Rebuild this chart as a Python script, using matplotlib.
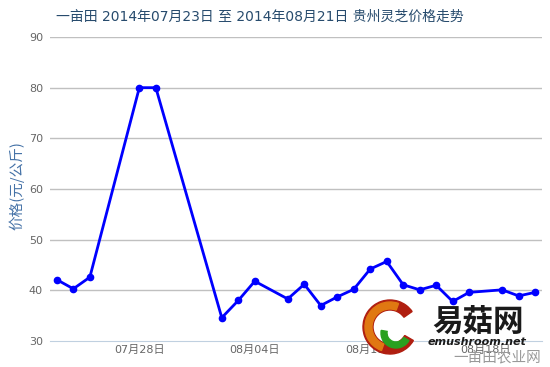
import matplotlib.pyplot as plt
import matplotlib.dates as mdates
from matplotlib.patches import Wedge
import pandas as pd

plt.rcParams['font.family'] = ['DejaVu Sans', 'Noto Sans CJK SC']

dates = ["2014-07-23", "2014-07-24", "2014-07-25", "2014-07-28", "2014-07-29",
         "2014-08-02", "2014-08-03", "2014-08-04", "2014-08-06", "2014-08-07",
         "2014-08-08", "2014-08-09", "2014-08-10", "2014-08-11", "2014-08-12",
         "2014-08-13", "2014-08-14", "2014-08-15", "2014-08-16", "2014-08-17",
         "2014-08-19", "2014-08-20", "2014-08-21"]
prices = [42.1, 40.3, 42.6, 80.0, 80.0,
          34.6, 38.0, 41.8, 38.3, 41.2,
          37.0, 38.7, 40.2, 44.2, 45.7,
          41.1, 40.1, 41.0, 37.8, 39.6,
          40.1, 38.9, 39.6]
tick_dates = ["2014-07-28", "2014-08-04", "2014-08-11", "2014-08-18"]
yticks = [30, 40, 50, 60, 70, 80, 90]

x = pd.to_datetime(dates)

W, H = 550, 367
fig = plt.figure(figsize=(5.5, 3.67), dpi=100)
ax = fig.add_axes([50 / W, 26 / H, 492 / W, 304 / H])

for y in yticks[1:]:
    ax.axhline(y, color="#c0c0c0", lw=1, zorder=1)

ax.plot(x, prices, color="#0000ff", lw=2, marker="o", markersize=4.5, zorder=3)

ax.set_ylim(30, 90)
ax.set_yticks(yticks)
ax.set_xlim(pd.Timestamp("2014-07-22 14:00"), pd.Timestamp("2014-08-21 10:00"))
ax.set_xticks(pd.to_datetime(tick_dates))
ax.xaxis.set_major_formatter(mdates.DateFormatter("%m月%d日"))

for s in ["top", "right", "left"]:
    ax.spines[s].set_visible(False)
ax.spines["bottom"].set_color("#c0d0e0")
ax.tick_params(axis="y", length=0, labelsize=8, labelcolor="#666666", pad=5)
ax.tick_params(axis="x", length=0, labelsize=8, labelcolor="#666666", pad=3)

ax.set_ylabel("价格(元/公斤)", color="#4572a7", fontsize=10.5,
              family=["Noto Sans CJK SC", "DejaVu Sans"])
ax.yaxis.set_label_coords(-26 / 492, 0.51)

fig.text(260 / W, 1 - 17 / H, "一亩田 2014年07月23日 至 2014年08月21日 贵州灵芝价格走势",
         ha="center", va="center", fontsize=10, color="#274b6d")

# watermark logo
lax = fig.add_axes([360 / W, 12 / H, 62 / W, 56 / H])
lax.set_xlim(0, 62)
lax.set_ylim(0, 56)
lax.set_aspect("equal")
lax.axis("off")
lax.add_patch(Wedge((30, 28), 27, 35, 330, width=10, color="#b01e10"))
lax.add_patch(Wedge((30, 28), 25, 70, 250, width=7, color="#e07812"))
lax.add_patch(Wedge((36, 22), 15, 170, 330, width=6, color="#2aa020"))

fig.text(478 / W, 1 - 322 / H, "易菇网", ha="center", va="center", fontsize=22,
         fontweight="bold", fontstyle="italic", color="#1a1a1a",
         family=["Noto Sans CJK SC"], zorder=5)
fig.text(477 / W, 1 - 342 / H, "emushroom.net", ha="center", va="center", fontsize=8,
         fontstyle="italic", fontweight="bold", color="#1a1a1a", zorder=5)
fig.text(497 / W, 1 - 357 / H, "一亩田农业网", ha="center", va="center", fontsize=10.5,
         color="#999999", family=["Noto Sans CJK SC"], zorder=5)

fig.savefig("out.png", dpi=100)
